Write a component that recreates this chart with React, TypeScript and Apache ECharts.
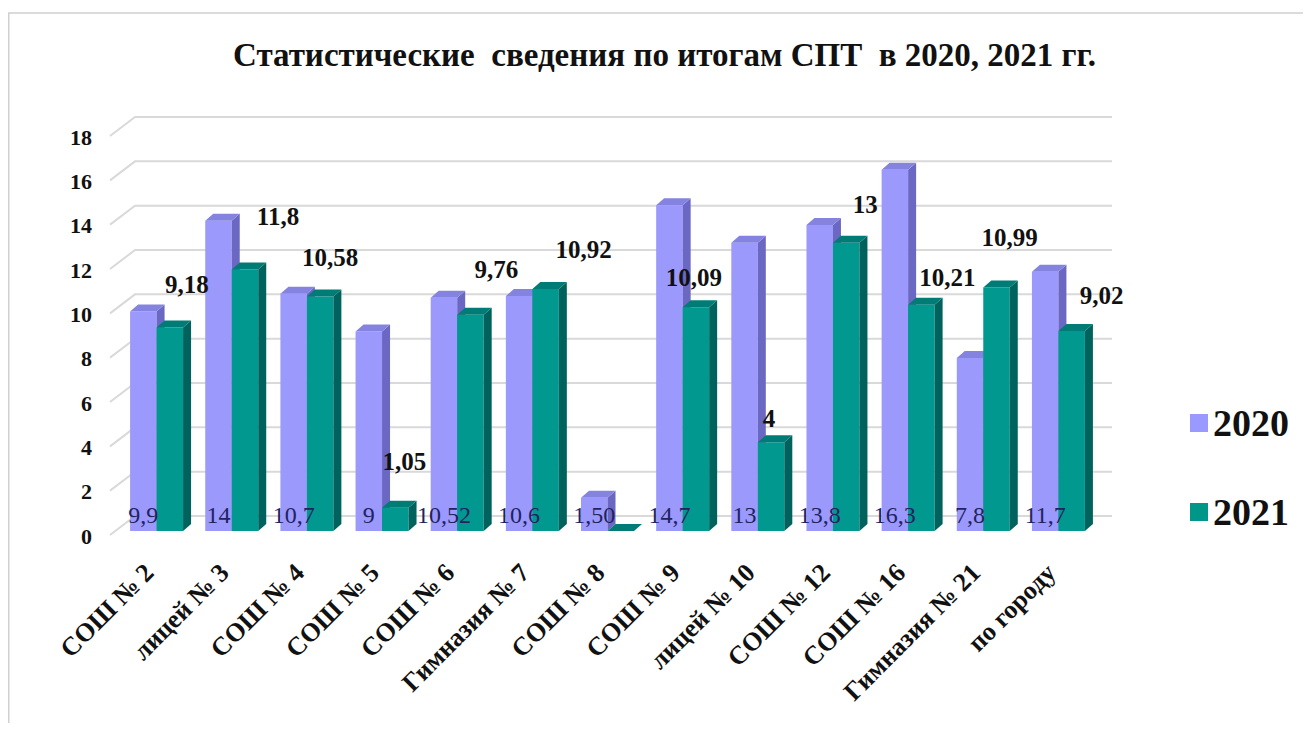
import React, { useEffect, useRef } from "react";
import * as echarts from "echarts";

const categories = [
  "СОШ № 2",
  "лицей № 3",
  "СОШ № 4",
  "СОШ № 5",
  "СОШ № 6",
  "Гимназия № 7",
  "СОШ № 8",
  "СОШ № 9",
  "лицей № 10",
  "СОШ № 12",
  "СОШ № 16",
  "Гимназия № 21",
  "по городу",
];
const values2020 = [9.9, 14, 10.7, 9, 10.52, 10.6, 1.5, 14.7, 13, 13.8, 16.3, 7.8, 11.7];
const values2021 = [9.18, 11.8, 10.58, 1.05, 9.76, 10.92, 0, 10.09, 4, 13, 10.21, 10.99, 9.02];
const labels2020 = ["9,9", "14", "10,7", "9", "10,52", "10,6", "1,50", "14,7", "13", "13,8", "16,3", "7,8", "11,7"];
const labels2021 = ["9,18", "11,8", "10,58", "1,05", "9,76", "10,92", "", "10,09", "4", "13", "10,21", "10,99", "9,02"];
const yTicks = [0, 2, 4, 6, 8, 10, 12, 14, 16, 18];

// manual label shifts (style only), relative to the top centre of each 2021 bar
const labelShift2021 = [
  [17, -43], [33, -53], [10, -39], [9, -46], [26, -45], [38, -39], [0, -30],
  [-2, -30], [-2, -24], [19, -38], [26, -27], [13, -50], [30, -36],
];

const FONT = "Liberation Serif";
const C2020 = { front: "#9b99fc", side: "#6b68c4", top: "#8583e0" };
const C2021 = { front: "#00988f", side: "#00625d", top: "#007c76" };
const DEPTH_X = 8;
const DEPTH_Y = 7;
const OFF_2020 = -0.4057;
const OFF_2021 = -0.0532;
const W_FRAC = 0.3525;

function barRenderer(offset: number, col: { front: string; side: string; top: string }) {
  return (params: any, api: any) => {
    const idx = api.value(0);
    const v = api.value(1);
    const topPt = api.coord([idx, v]);
    const basePt = api.coord([idx, 0]);
    const band = api.size([1, 0])[0];
    const w = band * W_FRAC;
    const x0 = topPt[0] + band * offset;
    const yT = topPt[1];
    const yB = basePt[1];
    return {
      type: "group",
      children: [
        {
          type: "rect",
          shape: { x: x0, y: yT, width: w, height: Math.max(0, yB - yT) },
          style: { fill: col.front },
        },
        {
          type: "polygon",
          shape: {
            points: [
              [x0 + w, yT],
              [x0 + w + DEPTH_X, yT - DEPTH_Y],
              [x0 + w + DEPTH_X, yB - DEPTH_Y],
              [x0 + w, yB],
            ],
          },
          style: { fill: col.side },
        },
        {
          type: "polygon",
          shape: {
            points: [
              [x0, yT],
              [x0 + DEPTH_X, yT - DEPTH_Y],
              [x0 + w + DEPTH_X, yT - DEPTH_Y],
              [x0 + w, yT],
            ],
          },
          style: { fill: col.top },
        },
      ],
    };
  };
}

export default function App() {
  const ref = useRef<HTMLDivElement>(null);

  useEffect(() => {
    if (!ref.current) return;
    const chart = echarts.init(ref.current, null, { renderer: "svg" });

    const option: any = {
      animation: false,
      backgroundColor: "#ffffff",
      title: {
        text: "Статистические  сведения по итогам СПТ  в 2020, 2021 гг.",
        left: 225,
        top: 30,
        padding: 0,
        textStyle: { fontFamily: FONT, fontWeight: "bold", fontSize: 33, color: "#111" },
      },
      legend: {
        orient: "vertical",
        left: 1177,
        top: 389,
        itemWidth: 18,
        itemHeight: 18,
        itemGap: 47,
        data: [
          { name: "2020", icon: "rect" },
          { name: "2021", icon: "rect" },
        ],
        textStyle: { fontFamily: FONT, fontWeight: "bold", fontSize: 38, color: "#111", lineHeight: 42 },
      },
      graphic: [
        {
          type: "rect",
          shape: { x: 0.75, y: 5, width: 1297.5, height: 730 },
          style: { fill: "none", stroke: "#d0d0d0", lineWidth: 1.5 },
          silent: true,
        },
      ],
      grid: { left: 115, right: 208, top: 124, bottom: 192 },
      xAxis: {
        type: "category",
        data: categories,
        axisLine: { show: false },
        axisTick: { show: false },
        axisLabel: {
          interval: 0,
          rotate: 45,
          margin: 26,
          padding: [0, 16, 0, 0],
          fontFamily: FONT,
          fontWeight: "bold",
          fontSize: 26,
          color: "#111",
        },
      },
      yAxis: {
        type: "value",
        min: 0,
        max: 18,
        interval: 2,
        axisLine: { show: false },
        axisTick: { show: false },
        splitLine: { show: false },
        axisLabel: {
          margin: 31,
          formatter: "{v|{value}}",
          rich: {
            v: {
              padding: [10, 0, 0, 0],
              fontFamily: FONT,
              fontWeight: "bold",
              fontSize: 22,
              color: "#111",
            },
          },
        },
      },
      series: [
        {
          type: "custom",
          name: "wall",
          z: 1,
          silent: true,
          data: yTicks.map((t) => [0, t]),
          encode: { x: 0, y: 1 },
          renderItem: (params: any, api: any) => {
            const cs = params.coordSys;
            const y = api.coord([0, api.value(1)])[1];
            const L = cs.x;
            const R = cs.x + cs.width;
            return {
              type: "polyline",
              shape: {
                points: [
                  [L - 13, y + 4],
                  [L + 12, y - 15],
                  [R + 12, y - 15],
                ],
              },
              style: { stroke: "#d9d9d9", lineWidth: 2, fill: "none" },
            };
          },
        },
        {
          type: "custom",
          name: "2020",
          z: 2,
          itemStyle: { color: "#9999ff" },
          data: values2020.map((v, i) => [i, v]),
          encode: { x: 0, y: 1 },
          renderItem: barRenderer(OFF_2020, C2020),
        },
        {
          type: "custom",
          name: "2021",
          z: 3,
          itemStyle: { color: "#009688" },
          data: values2021.map((v, i) => [i, v]),
          encode: { x: 0, y: 1 },
          renderItem: barRenderer(OFF_2021, C2021),
        },
        {
          type: "custom",
          name: "labels2020",
          z: 5,
          silent: true,
          data: values2020.map((v, i) => [i, v]),
          encode: { x: 0, y: 1 },
          renderItem: (params: any, api: any) => {
            const idx = api.value(0);
            const base = api.coord([idx, 0]);
            const band = api.size([1, 0])[0];
            const cx = base[0] + band * OFF_2020 + (band * W_FRAC) / 2;
            return {
              type: "text",
              x: cx,
              y: base[1] - 16,
              style: {
                text: labels2020[idx],
                fill: "#1f2360",
                fontFamily: FONT,
                fontSize: 24,
                align: "center",
                verticalAlign: "middle",
              },
            };
          },
        },
        {
          type: "custom",
          name: "labels2021",
          z: 5,
          silent: true,
          data: values2021.map((v, i) => [i, v]),
          encode: { x: 0, y: 1 },
          renderItem: (params: any, api: any) => {
            const idx = api.value(0);
            const top = api.coord([idx, api.value(1)]);
            const band = api.size([1, 0])[0];
            const cx = top[0] + band * OFF_2021 + (band * W_FRAC) / 2;
            const sh = labelShift2021[idx];
            return {
              type: "text",
              x: cx + sh[0],
              y: top[1] + sh[1],
              style: {
                text: labels2021[idx],
                fill: "#111",
                fontFamily: FONT,
                fontWeight: "bold",
                fontSize: 25,
                align: "center",
                verticalAlign: "middle",
              },
            };
          },
        },
      ],
    };

    chart.setOption(option);
    return () => chart.dispose();
  }, []);

  return <div ref={ref} style={{ width: 1300, height: 715 }} />;
}
